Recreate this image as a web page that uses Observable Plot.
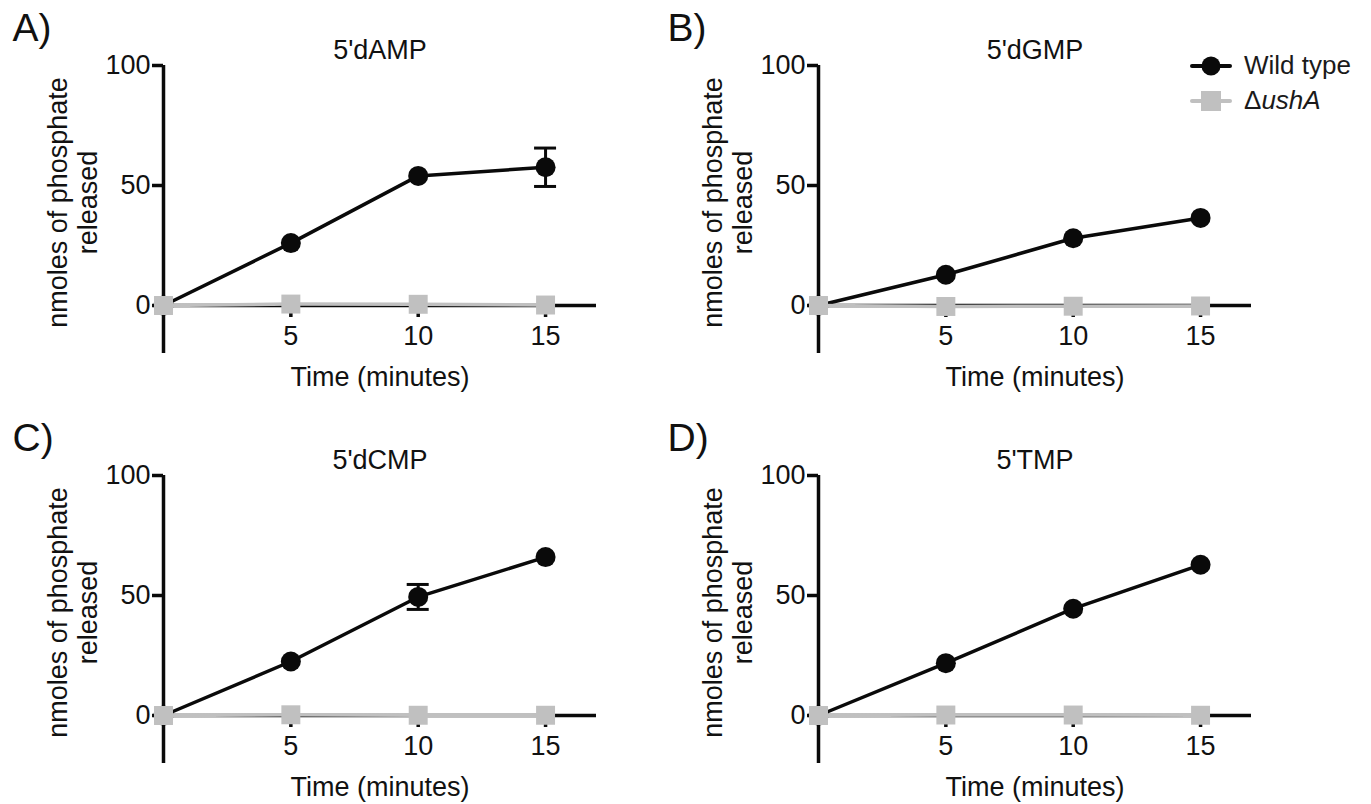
<!DOCTYPE html>
<html>
<head>
<meta charset="utf-8">
<script src="https://cdn.jsdelivr.net/npm/d3@7"></script>
<script src="https://cdn.jsdelivr.net/npm/@observablehq/plot@0.6"></script>
<style>
  html, body { margin: 0; padding: 0; background: #fff; overflow: hidden; }
  #wrap { position: relative; width: 1371px; height: 804px; font-family: "Liberation Sans", Arial, sans-serif; color: #1a1a1a; }
  .panel { position: absolute; }
  .leg { position: absolute; display: flex; align-items: center; font-size: 26px; white-space: nowrap; }
  .leg svg { margin-right: 12px; }
</style>
</head>
<body>
<div id="wrap"></div>
<script>
// ---- data ----
const times = [0, 5, 10, 15];
const xTicks = [5, 10, 15];
const yTicks = [0, 50, 100];
const panelLetters = ["A)", "B)", "C)", "D)"];
const panelTitles = ["5'dAMP", "5'dGMP", "5'dCMP", "5'TMP"];
const seriesNames = ["Wild type", "ΔushA"];

const dAMP_wt = [0, 26, 54, 57.6];
const dAMP_wt_sd = [0, 0, 0, 8];
const dAMP_ko = [0, 0.6, 0.5, 0.2];

const dGMP_wt = [0, 12.8, 28, 36.5];
const dGMP_wt_sd = [0, 0, 0, 0];
const dGMP_ko = [0, -0.4, -0.3, -0.2];

const dCMP_wt = [0, 22.5, 49.4, 66];
const dCMP_wt_sd = [0, 0, 5.2, 0];
const dCMP_ko = [0, 0.3, 0.1, 0.1];

const TMP_wt = [0, 21.8, 44.5, 62.8];
const TMP_wt_sd = [0, 0, 0, 0];
const TMP_ko = [0, 0.2, 0.2, 0.1];

const xLabel = "Time (minutes)";
const yLabel = "nmoles of phosphate\nreleased";

// ---- drawing ----
const BLACK = "#0a0a0a";
const GREY = "#c0c0c0";

function panel(letter, title, wt, sd, ko) {
  const rows = times.map((t, i) => ({t, v: wt[i], sd: sd[i], ko: ko[i]}));
  const err = rows.filter(d => d.sd > 0);
  return Plot.plot({
    width: 655, height: 410,
    marginLeft: 163, marginRight: 59, marginTop: 65, marginBottom: 105,
    x: {domain: [0, 17]},
    y: {domain: [0, 100]},
    style: {fontFamily: "'Liberation Sans', Arial, sans-serif", fontSize: "26px", color: "#111", background: "transparent", overflow: "visible"},
    marks: [
      Plot.ruleY([0], {x1: 0, x2: 17, stroke: BLACK, strokeWidth: 3.5}),
      Plot.ruleX([0], {y1: -20, y2: 100, stroke: BLACK, strokeWidth: 3.5}),
      Plot.axisY({ticks: yTicks, tickSize: 11, tickPadding: 2, strokeWidth: 3.5, label: null, stroke: BLACK, fontSize: 27}),
      Plot.axisX({ticks: xTicks, tickSize: 12, tickPadding: 8, strokeWidth: 3.5, label: null, stroke: BLACK, fontSize: 27}),
      Plot.ruleX(err, {x: "t", y1: d => d.v - d.sd, y2: d => d.v + d.sd, stroke: BLACK, strokeWidth: 3}),
      Plot.ruleY(err, {x1: "t", x2: "t", y: d => d.v + d.sd, insetLeft: -11, insetRight: -11, stroke: BLACK, strokeWidth: 3}),
      Plot.ruleY(err, {x1: "t", x2: "t", y: d => d.v - d.sd, insetLeft: -11, insetRight: -11, stroke: BLACK, strokeWidth: 3}),
      Plot.line(rows, {x: "t", y: "v", stroke: BLACK, strokeWidth: 3.5}),
      Plot.dot(rows, {x: "t", y: "v", r: 10, fill: BLACK, stroke: null}),
      Plot.line(rows, {x: "t", y: "ko", stroke: GREY, strokeWidth: 3.5}),
      Plot.dot(rows, {x: "t", y: "ko", symbol: "square", r: 10.7, fill: GREY, stroke: null}),
      Plot.text([title], {frameAnchor: "top", dy: -15, fontSize: 27, lineAnchor: "middle"}),
      Plot.text([xLabel], {frameAnchor: "bottom", dy: 72, fontSize: 27, lineAnchor: "middle"}),
      Plot.text([yLabel], {frameAnchor: "left", rotate: -90, dx: -91, dy: 17, fontSize: 27, lineHeight: 1.1, lineAnchor: "middle", textAnchor: "middle"}),
      Plot.text([letter], {frameAnchor: "top-left", dx: -151, dy: -37, fontSize: 39, textAnchor: "start", lineAnchor: "middle"})
    ]
  });
}

const wrap = document.getElementById("wrap");
const specs = [
  [dAMP_wt, dAMP_wt_sd, dAMP_ko, 0, 0],
  [dGMP_wt, dGMP_wt_sd, dGMP_ko, 655, 0],
  [dCMP_wt, dCMP_wt_sd, dCMP_ko, 0, 410],
  [TMP_wt, TMP_wt_sd, TMP_ko, 655, 410]
];
specs.forEach(([wt, sd, ko, left, top], i) => {
  const div = document.createElement("div");
  div.className = "panel";
  div.style.left = left + "px";
  div.style.top = top + "px";
  div.appendChild(panel(panelLetters[i], panelTitles[i], wt, sd, ko));
  wrap.appendChild(div);
});

// ---- legend ----
function legendRow(top, iconSvg, html) {
  const d = document.createElement("div");
  d.className = "leg";
  d.style.left = "1190px";
  d.style.top = top + "px";
  d.innerHTML = iconSvg + "<span>" + html + "</span>";
  wrap.appendChild(d);
}
legendRow(50,
  `<svg width="42" height="30"><line x1="2" x2="40" y1="15" y2="15" stroke="${BLACK}" stroke-width="4" stroke-linecap="round"/><circle cx="21" cy="15" r="9.5" fill="${BLACK}"/></svg>`,
  seriesNames[0]);
legendRow(85,
  `<svg width="42" height="30"><line x1="2" x2="40" y1="15" y2="15" stroke="${GREY}" stroke-width="4" stroke-linecap="round"/><rect x="11" y="5" width="20" height="20" fill="${GREY}"/></svg>`,
  "Δ<i>ushA</i>");
</script>
</body>
</html>
